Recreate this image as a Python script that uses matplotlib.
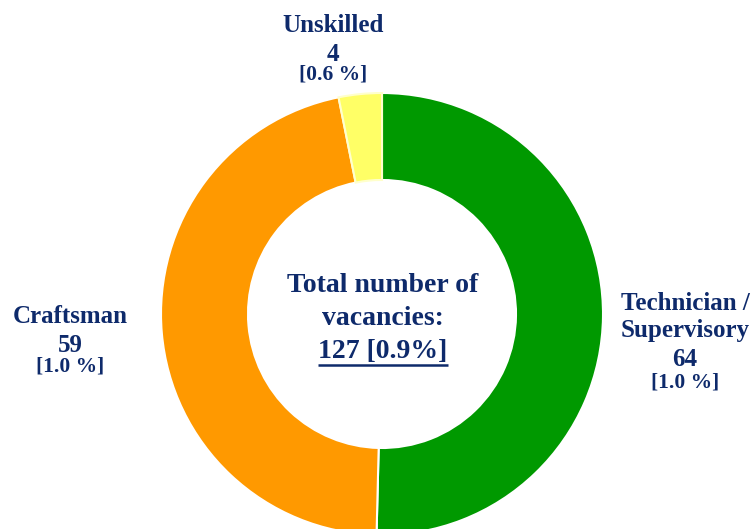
import matplotlib
matplotlib.use("Agg")
import matplotlib.pyplot as plt

categories = ["Technician /\nSupervisory", "Craftsman", "Unskilled"]
values = [64, 59, 4]
shares = ["[1.0 %]", "[1.0 %]", "[0.6 %]"]
colors = ["#009900", "#FF9900", "#FFFF66"]
total_label = "127 [0.9%]"

W, H = 754, 529
fig = plt.figure(figsize=(W / 100, H / 100), dpi=100)
ax = fig.add_axes([0, 0, 1, 1])
ax.set_xlim(0, W)
ax.set_ylim(0, H)
ax.set_aspect("equal")
ax.axis("off")

navy = "#0E2A6B"
font = "Liberation Serif"

def Y(py):
    return H - py

cx, cy, R, rin = 382, 314, 221, 134
wedges, _ = ax.pie(values, colors=colors, startangle=90, counterclock=False,
                   center=(cx, Y(cy)), radius=R,
                   wedgeprops=dict(width=R - rin, edgecolor="white", linewidth=1.5),
                   frame=True)
wedges[2].set_edgecolor("#FFFFCC")
ax.set_xlim(0, W)
ax.set_ylim(0, H)
ax.axis("off")

big, small = 18, 15.5

def label(x, lines):
    for (txt, yb, fs) in lines:
        ax.text(x, Y(yb), txt, ha="center", va="baseline", fontsize=fs,
                fontweight="bold", family=font, color=navy)

tech_lines = categories[0].split("\n")
label(685, [(tech_lines[0], 310, big), (tech_lines[1], 337, big),
            (str(values[0]), 366, big), (shares[0], 387, small)])
label(70, [(categories[1], 323, big), (str(values[1]), 352, big),
           (shares[1], 372, small)])
label(333, [(categories[2], 32, big), (str(values[2]), 61, big),
            (shares[2], 80, small)])

cfs = 20
ax.text(383, Y(292), "Total number of", ha="center", va="baseline",
        fontsize=cfs, fontweight="bold", family=font, color=navy)
ax.text(383, Y(325), "vacancies:", ha="center", va="baseline",
        fontsize=cfs, fontweight="bold", family=font, color=navy)
t = ax.text(383, Y(358), total_label, ha="center", va="baseline",
            fontsize=cfs, fontweight="bold", family=font, color=navy)
fig.canvas.draw()
bb = t.get_window_extent().transformed(ax.transData.inverted())
ax.plot([bb.x0, bb.x1], [Y(365), Y(365)], color=navy, linewidth=1.8,
        solid_capstyle="butt")

fig.savefig("out.png", dpi=100)
